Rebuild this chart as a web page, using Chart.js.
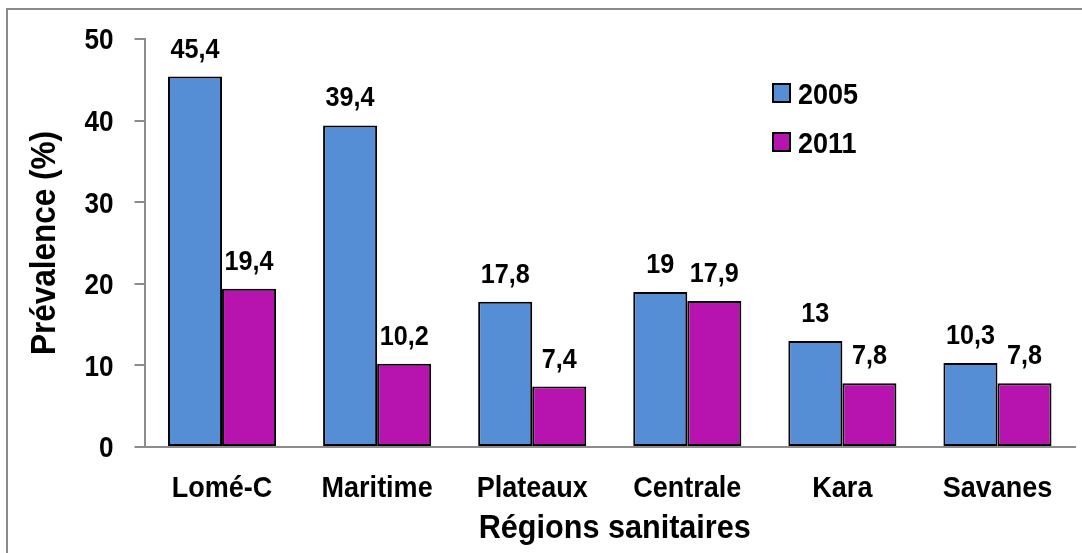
<!DOCTYPE html>
<html>
<head>
<meta charset="utf-8">
<script src="https://cdn.jsdelivr.net/npm/chart.js@4.4.1/dist/chart.umd.min.js"></script>
<style>
  html, body { margin: 0; padding: 0; background: #ffffff; }
  #wrap { width: 1082px; height: 553px; position: relative; }
</style>
</head>
<body>
<div id="wrap"><canvas id="chart"></canvas></div>
<script>
// Regions and prevalence values (%)
const regions = ['Lomé-C', 'Maritime', 'Plateaux', 'Centrale', 'Kara', 'Savanes'];
const years = ['2005', '2011'];
const prev2005 = [45.4, 39.4, 17.8, 19, 13, 10.3];
const prev2011 = [19.4, 10.2, 7.4, 17.9, 7.8, 7.8];
const yTicks = [0, 10, 20, 30, 40, 50];

const FONT = '"Liberation Sans", Arial, sans-serif';
const NARROW = 0.9;          // horizontal squeeze for a condensed look
const CAP = 0.716;           // cap height / em
const colors = ['#558ED5', '#B713AE'];

function fmt(v) {
  return String(v).replace('.', ',');
}

// Draw bold condensed text; (x, y) is the anchor on the baseline.
function narrowText(ctx, text, x, y, size, align, rotate) {
  ctx.save();
  ctx.translate(x, y);
  if (rotate) ctx.rotate(rotate);
  ctx.scale(NARROW, 1);
  ctx.font = 'bold ' + size + 'px ' + FONT;
  ctx.fillStyle = '#000';
  ctx.textAlign = align;
  ctx.textBaseline = 'alphabetic';
  ctx.fillText(text, 0, 0);
  ctx.restore();
}

// Axis tick labels and titles
const axisText = {
  id: 'axisText',
  afterDraw(chart) {
    const ctx = chart.ctx;
    const xs = chart.scales.x, ys = chart.scales.y, area = chart.chartArea;
    ys.ticks.forEach(t => {
      const py = ys.getPixelForValue(t.value);
      narrowText(ctx, String(t.value), area.left - 31, py + CAP * 29 / 2, 29, 'right');
    });
    chart.data.labels.forEach((lab, i) => {
      narrowText(ctx, lab, xs.getPixelForTick(i), area.bottom + 50, 30, 'center');
    });
    narrowText(ctx, 'Régions sanitaires', (area.left + area.right) / 2 + 5, area.bottom + 91, 34, 'center');
    narrowText(ctx, 'Prévalence (%)', 55, (area.top + area.bottom) / 2, 35, 'center', -Math.PI / 2);
  }
};

// Value labels above each bar
const valueLabels = {
  id: 'valueLabels',
  afterDatasetsDraw(chart) {
    chart.data.datasets.forEach((ds, di) => {
      chart.getDatasetMeta(di).data.forEach((bar, i) => {
        narrowText(chart.ctx, fmt(ds.data[i]), bar.x, bar.y - 19, 28, 'center');
      });
    });
  }
};

// Legend inside the plot area, plus the frame lines
const innerLegend = {
  id: 'innerLegend',
  afterDraw(chart) {
    const ctx = chart.ctx;
    ctx.save();
    ctx.strokeStyle = '#8a8a8a';
    ctx.lineWidth = 2;
    ctx.beginPath();
    ctx.moveTo(7, 560);
    ctx.lineTo(7, 9);
    ctx.lineTo(1090, 9);
    ctx.stroke();

    const x0 = 773, rows = [93, 142];
    chart.data.datasets.forEach((ds, i) => {
      const cy = rows[i];
      ctx.fillStyle = ds.backgroundColor;
      ctx.fillRect(x0, cy - 9, 17, 18);
      ctx.strokeStyle = '#000';
      ctx.lineWidth = 2;
      ctx.strokeRect(x0, cy - 9, 17, 18);
      narrowText(ctx, ds.label, x0 + 25, cy + CAP * 30 / 2, 30, 'left');
    });
    ctx.restore();
  }
};

new Chart(document.getElementById('chart'), {
  type: 'bar',
  data: {
    labels: regions,
    datasets: [
      { label: years[0], data: prev2005, backgroundColor: colors[0] },
      { label: years[1], data: prev2011, backgroundColor: colors[1] }
    ]
  },
  options: {
    responsive: true,
    maintainAspectRatio: false,
    animation: false,
    devicePixelRatio: 1,
    layout: { padding: { left: 0, top: 39, right: 7, bottom: 0 } },
    datasets: {
      bar: {
        borderColor: '#000',
        borderWidth: 2,
        borderSkipped: false,
        categoryPercentage: 0.697,
        barPercentage: 1
      }
    },
    plugins: {
      legend: { display: false },
      tooltip: { enabled: false }
    },
    scales: {
      x: {
        grid: { display: false },
        border: { display: true, color: '#8c8c8c', width: 2 },
        ticks: { display: false },
        afterFit(scale) { scale.height = 106; }
      },
      y: {
        min: 0,
        max: 50,
        afterBuildTicks(scale) { scale.ticks = yTicks.map(v => ({ value: v })); },
        grid: {
          drawOnChartArea: false,
          drawTicks: true,
          tickLength: 10,
          color: '#8c8c8c',
          lineWidth: 2
        },
        border: { display: true, color: '#8c8c8c', width: 2 },
        ticks: { display: false },
        afterFit(scale) { scale.width = 144.5; }
      }
    }
  },
  plugins: [valueLabels, axisText, innerLegend]
});
</script>
</body>
</html>
